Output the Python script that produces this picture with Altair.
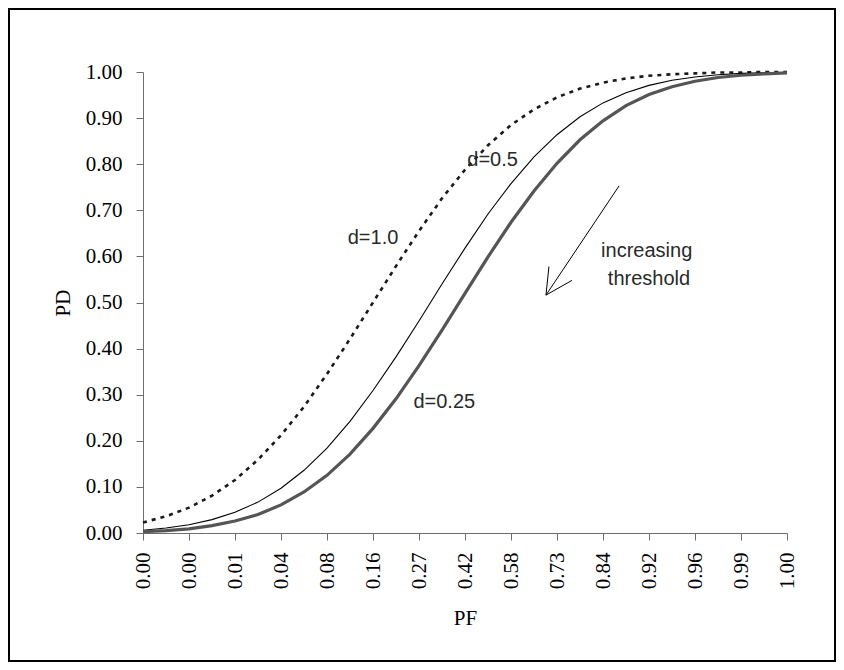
import altair as alt
import pandas as pd

# ---- data -------------------------------------------------------------
pf_labels = ["0.00", "0.00", "0.01", "0.04", "0.08", "0.16", "0.27", "0.42",
             "0.58", "0.73", "0.84", "0.92", "0.96", "0.99", "1.00"]
category_index = list(range(29))

pd_d100 = [0.023, 0.036, 0.055, 0.081, 0.115, 0.159, 0.212, 0.274, 0.345, 0.421,
           0.500, 0.579, 0.655, 0.726, 0.788, 0.841, 0.885, 0.919, 0.945, 0.964,
           0.977, 0.986, 0.992, 0.995, 0.997, 0.999, 0.999, 1.000, 1.000]
pd_d050 = [0.006, 0.011, 0.018, 0.029, 0.045, 0.067, 0.097, 0.136, 0.184, 0.242,
           0.309, 0.382, 0.460, 0.540, 0.618, 0.692, 0.758, 0.816, 0.864, 0.903,
           0.933, 0.955, 0.971, 0.982, 0.989, 0.994, 0.997, 0.998, 0.999]
pd_d025 = [0.003, 0.005, 0.009, 0.016, 0.026, 0.040, 0.061, 0.089, 0.125, 0.171,
           0.227, 0.291, 0.363, 0.440, 0.520, 0.599, 0.674, 0.742, 0.802, 0.853,
           0.894, 0.927, 0.951, 0.968, 0.980, 0.988, 0.993, 0.996, 0.998]

annot_text = ["d=1.0", "d=0.5", "d=0.25", "increasing", "threshold"]
annot_x = [10.0, 15.2, 13.1, 21.9, 22.0]
annot_y = [0.64, 0.81, 0.285, 0.612, 0.551]

arrow_x = [20.7, 17.52, 17.52]
arrow_y = [0.753, 0.516, 0.516]
arrow_x2 = [17.52, 17.65, 18.65]
arrow_y2 = [0.516, 0.578, 0.548]

# ---- layout ------------------------------------------------------------
W, H = 644, 461
PAD = {"left": 135, "top": 64, "right": 49, "bottom": 129}
SERIF = "Liberation Serif"
SANS = "Liberation Sans"

rows = []
for name, vals in [("d=1.0", pd_d100), ("d=0.5", pd_d050), ("d=0.25", pd_d025)]:
    for i, v in zip(category_index, vals):
        rows.append({"series": name, "idx": i, "pd": v})
df = pd.DataFrame(rows)

x_scale = alt.Scale(domain=[0, 28], nice=False, zero=False)
y_scale = alt.Scale(domain=[0, 1], nice=False, zero=False)

label_js = "[" + ",".join("'" + s + "'" for s in pf_labels) + "]"
x_axis = alt.Axis(
    values=category_index,
    labelExpr="datum.value % 2 == 0 ? " + label_js + "[datum.value / 2] : ''",
    labelAngle=270, labelFont=SERIF, labelFontSize=21, labelColor="#000",
    labelPadding=12, tickSize=7, tickColor="#6e6e6e", domainColor="#6e6e6e",
    grid=False, title="PF", titleFont=SERIF, titleFontSize=21,
    titleFontWeight="normal", titleColor="#000", titlePadding=19,
    labelOverlap=False, labelFlush=False,
)
y_axis = alt.Axis(
    values=[round(0.1 * k, 1) for k in range(11)], format=".2f",
    labelFont=SERIF, labelFontSize=21, labelColor="#000", labelPadding=14,
    tickSize=7, tickColor="#6e6e6e", domainColor="#6e6e6e", grid=False,
    title="PD", titleFont=SERIF, titleFontSize=21, titleFontWeight="normal",
    titleColor="#000", titlePadding=12, labelOverlap=False,
)

base = alt.Chart(df)
x_enc = alt.X("idx:Q", scale=x_scale, axis=x_axis)
y_enc = alt.Y("pd:Q", scale=y_scale, axis=y_axis)

line100 = base.transform_filter(alt.datum.series == "d=1.0").mark_line(
    color="#1a1a1a", strokeWidth=2.6, strokeDash=[4, 5]
).encode(x=x_enc, y=y_enc)
line050 = base.transform_filter(alt.datum.series == "d=0.5").mark_line(
    color="#000000", strokeWidth=1.1
).encode(x=alt.X("idx:Q", scale=x_scale), y=alt.Y("pd:Q", scale=y_scale))
line025 = base.transform_filter(alt.datum.series == "d=0.25").mark_line(
    color="#555555", strokeWidth=3.2
).encode(x=alt.X("idx:Q", scale=x_scale), y=alt.Y("pd:Q", scale=y_scale))

annot = alt.Chart(pd.DataFrame({"t": annot_text, "x": annot_x, "y": annot_y})).mark_text(
    font=SANS, fontSize=20, color="#2a2a2a", align="center", baseline="middle"
).encode(x=alt.X("x:Q", scale=x_scale), y=alt.Y("y:Q", scale=y_scale), text="t:N")

arrow = alt.Chart(pd.DataFrame({"x": arrow_x, "y": arrow_y, "x2": arrow_x2, "y2": arrow_y2})).mark_rule(
    color="#000", strokeWidth=1
).encode(x=alt.X("x:Q", scale=x_scale), y=alt.Y("y:Q", scale=y_scale), x2="x2:Q", y2="y2:Q")

frame = alt.Chart(pd.DataFrame({"a": [0]})).mark_rect(
    fill=None, fillOpacity=0, stroke="#000", strokeWidth=2
).encode(
    x=alt.value(-PAD["left"] + 1), x2=alt.value(W + PAD["right"] - 1),
    y=alt.value(-PAD["top"] + 1), y2=alt.value(H + PAD["bottom"] - 1),
)

chart = alt.layer(frame, line100, line050, line025, arrow, annot).properties(
    width=W, height=H,
    autosize=alt.AutoSizeParams(type="none"),
    padding=PAD,
    background="white",
).configure_view(stroke=None)

chart.save("out.html", embed_options={"renderer": "svg", "actions": False})
